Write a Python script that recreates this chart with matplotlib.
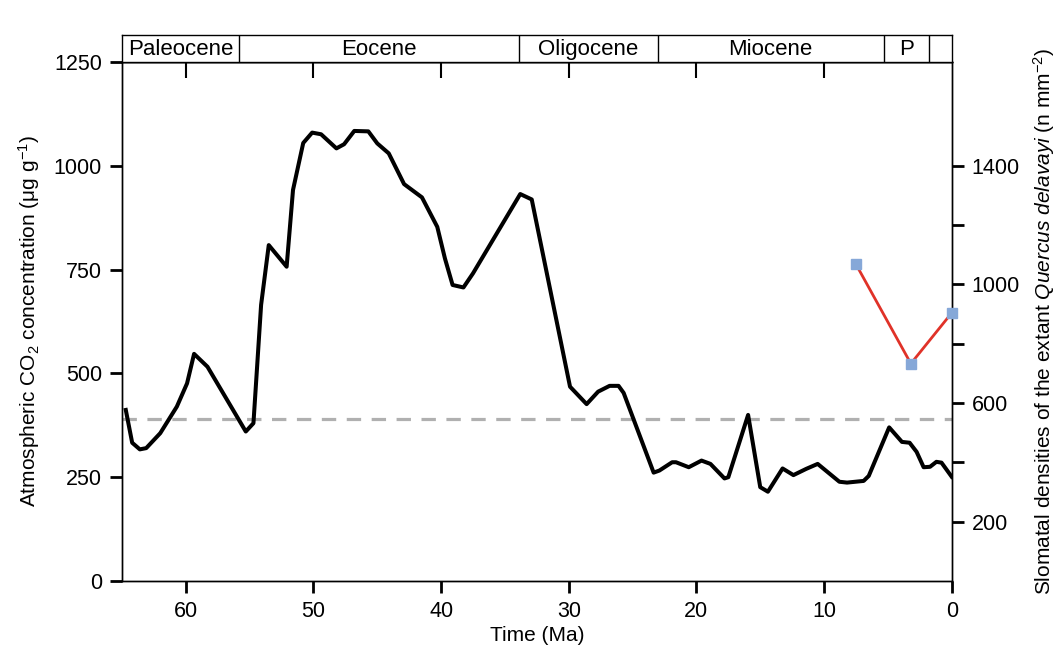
import numpy as np
import matplotlib.pyplot as plt

plt.rcParams['font.family'] = ['Liberation Sans', 'DejaVu Sans']
plt.rcParams['mathtext.fontset'] = 'custom'
plt.rcParams['mathtext.rm'] = 'Liberation Sans'
plt.rcParams['mathtext.it'] = 'Liberation Sans:italic'
plt.rcParams['font.size'] = 15

# CO2 reconstruction (Ma, ug/g)
time_ma = [64.7, 64.2, 63.6, 63.1, 62.0, 60.7, 59.9, 59.35, 58.3, 55.3,
           54.7, 54.1, 53.5, 52.1, 51.6, 50.8, 50.1, 49.4, 48.2, 47.6,
           46.8, 45.7, 45.0, 44.1, 42.9, 41.5, 40.3, 39.7, 39.1, 38.25,
           37.5, 33.8, 32.9, 29.9, 28.6, 27.7, 26.8, 26.1, 25.7, 23.35,
           22.9, 21.9, 21.6, 20.6, 19.6, 18.9, 17.8, 17.5, 15.95, 15.0,
           14.4, 13.25, 12.4, 11.4, 10.5, 8.8, 8.2, 6.9, 6.5, 4.9,
           3.9, 3.3, 2.75, 2.2, 1.7, 1.2, 0.8, 0.0]
co2 = [412, 333, 317, 320, 356, 420, 476, 547, 516, 360,
       380, 665, 809, 757, 942, 1055, 1080, 1076, 1042, 1052,
       1084, 1083, 1054, 1030, 956, 924, 853, 777, 713, 707,
       741, 932, 919, 468, 426, 456, 470, 470, 453, 261,
       266, 286, 286, 274, 290, 282, 247, 250, 400, 226,
       215, 271, 255, 270, 282, 239, 237, 241, 253, 370,
       335, 333, 311, 274, 275, 287, 285, 251]

# stomatal density of Quercus delavayi
q_time = [7.5, 3.2, 0.0]
q_density = [1068, 733, 904]

present_co2 = 390

epoch_names = ["Paleocene", "Eocene", "Oligocene", "Miocene", "P", ""]
epoch_bounds = [65, 55.8, 33.9, 23.03, 5.33, 1.8, 0]

fig = plt.figure(figsize=(10.55, 6.53), dpi=100)
ax = fig.add_axes([0.1156, 0.1103, 0.7865, 0.7947])
ax2 = ax.twinx()
ax_ep = fig.add_axes([0.1156, 0.905, 0.7865, 0.0415])

ax.plot(time_ma, co2, color='black', lw=2.9, solid_joinstyle='round', zorder=3)
dash = ax.axhline(present_co2, color='#b0b0b0', lw=2.3, zorder=2)
dash.set_dashes((4.5, 3.3))
ax2.plot(q_time, q_density, color='#e03228', lw=2.0, marker='s', ms=7.5,
         mfc='#86a8d8', mec='#86a8d8', clip_on=False, zorder=4)

ax.set_xlim(65, 0)
ax.set_ylim(0, 1250)
ax2.set_ylim(0, 1750)
ax.set_xticks([60, 50, 40, 30, 20, 10, 0])
ax.set_yticks([0, 250, 500, 750, 1000, 1250])
ax2.set_yticks([200, 400, 600, 800, 1000, 1200, 1400])
ax2.set_yticklabels(['200', '', '600', '', '1000', '', '1400'])

for a in (ax, ax2):
    for s in a.spines.values():
        s.set_linewidth(1.0)
ax.tick_params(axis='both', direction='out', length=8.5, width=2, pad=6,
               top=False, labelsize=15.5)
ax2.tick_params(axis='y', direction='out', length=8.5, width=2, pad=6,
                labelsize=15.5)

# ticks on the top spine point inward
ax_top = ax.secondary_xaxis('top')
ax_top.set_xticks([60, 50, 40, 30, 20, 10])
ax_top.set_xticklabels([])
ax_top.tick_params(direction='in', length=11.5, width=1.5)
ax_top.spines['top'].set_linewidth(1.0)

ax.set_xlabel('Time (Ma)', labelpad=3)
ax.set_ylabel(r'Atmospheric CO$_2$ concentration (μg g$^{-1}$)', labelpad=8)
ax2.set_ylabel(r'Slomatal densities of the extant $\it{Quercus\ delavayi}$ (n mm$^{-2}$)',
               labelpad=8)

# epoch bar
ax_ep.set_xlim(65, 0)
ax_ep.set_ylim(0, 1)
ax_ep.set_xticks([])
ax_ep.set_yticks([])
for s in ax_ep.spines.values():
    s.set_linewidth(1.0)
for b in epoch_bounds[1:-1]:
    ax_ep.axvline(b, color='black', lw=1.0)
for name, b0, b1 in zip(epoch_names, epoch_bounds[:-1], epoch_bounds[1:]):
    ax_ep.text((b0 + b1) / 2, 0.45, name, ha='center', va='center', fontsize=16)

fig.savefig('out.png', dpi=100)
